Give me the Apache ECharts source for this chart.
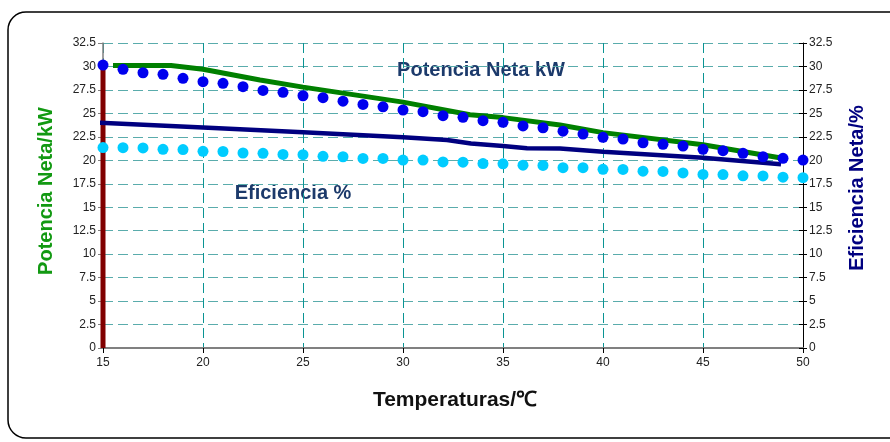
<!DOCTYPE html>
<html>
<head>
<meta charset="utf-8">
<script src="https://cdn.jsdelivr.net/npm/echarts@6/dist/echarts.min.js"></script>
<style>
html,body{margin:0;padding:0;background:#fff;}
#chart{width:890px;height:442px;}
</style>
</head>
<body>
<div id="chart"></div>
<script>
const temps = [15,16,17,18,19,20,21,22,23,24,25,26,27,28,29,30,31,32,33,34,35,36,37,38,39,40,41,42,43,44,45,46,47,48,49,50];
const potenciaDots = [30.15,29.7,29.33,29.16,28.74,28.38,28.2,27.84,27.45,27.24,26.88,26.67,26.3,25.96,25.7,25.36,25.18,24.75,24.58,24.22,24.05,23.66,23.47,23.1,22.8,22.45,22.27,21.87,21.7,21.52,21.17,21.02,20.74,20.38,20.21,20.03];
const eficienciaDots = [21.36,21.34,21.32,21.17,21.15,20.96,20.94,20.78,20.74,20.63,20.6,20.42,20.38,20.2,20.2,20.03,20.02,19.83,19.8,19.65,19.62,19.48,19.45,19.22,19.22,19.04,19.03,18.84,18.82,18.65,18.5,18.48,18.35,18.33,18.2,18.15];
const greenX = [15.5,18.4,20,22.85,25,30,33.35,35,37.85,40,45,48.9];
const greenY = [30.1,30.1,29.7,28.55,27.8,26.2,24.85,24.55,23.76,22.95,21.65,20.25];
const navyX = [14.8,20,25,30,32.2,33.4,35,36.2,37.85,40,45,48.9];
const navyY = [24.0,23.5,22.98,22.45,22.16,21.8,21.52,21.28,21.26,20.92,20.28,19.57];
const markerX = [15,15];
const markerY = [0,30.15];
const xTicks = {min:15,max:50,step:5};
const yTicks = {min:0,max:32.5,step:2.5};

const zip = (a,b)=>a.map((v,i)=>[v,b[i]]);
const font = 'Liberation Sans, Arial, sans-serif';
const chart = echarts.init(document.getElementById('chart'),null,{renderer:'canvas'});
const yLabelFmt = v => String(v);
const baseY = {
  type:'value', min:yTicks.min, max:yTicks.max, interval:yTicks.step
};
chart.setOption({
  animation:false,
  backgroundColor:'#fff',
  grid:{left:103,right:87,top:43,bottom:94,containLabel:false},
  xAxis:{
    type:'value', min:xTicks.min, max:xTicks.max, interval:xTicks.step,
    axisLine:{show:true,onZero:false,lineStyle:{color:'#808080',width:2}},
    axisTick:{show:true,length:5,lineStyle:{color:'#000',width:1}},
    axisLabel:{color:'#222',fontSize:12,fontFamily:font,margin:9},
    splitLine:{show:true,lineStyle:{color:'#0a9494',type:[10,5],width:1}}
  },
  yAxis:[
    Object.assign({},baseY,{
      position:'left',
      axisLine:{show:true,onZero:false,lineStyle:{color:'#808080',width:1.5}},
      axisTick:{show:true,length:5,lineStyle:{color:'#808080'}},
      axisLabel:{color:'#222',fontSize:12,fontFamily:font,margin:7,formatter:yLabelFmt},
      splitLine:{show:true,lineStyle:{color:'#5aacac',type:[10,5],width:1}}
    }),
    Object.assign({},baseY,{
      position:'right',
      axisLine:{show:true,onZero:false,lineStyle:{color:'#000',width:1}},
      axisTick:{show:true,length:4,lineStyle:{color:'#000'}},
      axisLabel:{color:'#222',fontSize:12,fontFamily:font,margin:6,formatter:yLabelFmt},
      splitLine:{show:false}
    }),
    Object.assign({},baseY,{
      position:'right',
      axisLine:{show:false},
      axisTick:{show:true,inside:true,length:4,lineStyle:{color:'#000'}},
      axisLabel:{show:false},
      splitLine:{show:false}
    })
  ],
  series:[
    {type:'line',name:'marker',data:zip(markerX,markerY),symbol:'none',
     lineStyle:{color:'#800000',width:5},z:3},
    {type:'line',name:'Eficiencia %',data:zip(temps,eficienciaDots),symbol:'circle',symbolSize:11,
     lineStyle:{width:0},itemStyle:{color:'#00ccff'},z:4},
    {type:'line',name:'Eficiencia Neta',data:zip(navyX,navyY),symbol:'none',clip:false,
     lineStyle:{color:'#000080',width:4.5},z:5},
    {type:'line',name:'Potencia Neta',data:zip(greenX,greenY),symbol:'none',
     lineStyle:{color:'#008000',width:5},z:6},
    {type:'line',name:'Potencia Neta kW',data:zip(temps,potenciaDots),symbol:'circle',symbolSize:11,
     lineStyle:{width:0},itemStyle:{color:'#0000ee'},z:7}
  ],
  graphic:[
    {type:'rect',shape:{x:8,y:12,width:900,height:426,r:18},
     style:{fill:'none',stroke:'#000',lineWidth:1.5},z:-10},
    {type:'text',x:46,y:191,rotation:Math.PI/2,
     style:{text:'Potencia Neta/kW',fill:'#129912',font:'bold 20px '+font,align:'center',verticalAlign:'middle'}},
    {type:'text',x:857,y:188,rotation:Math.PI/2,
     style:{text:'Eficiencia Neta/%',fill:'#000080',font:'bold 20px '+font,align:'center',verticalAlign:'middle'}},
    {type:'text',x:455,y:400,
     style:{text:'Temperaturas/℃',fill:'#111',font:'bold 21px '+font,align:'center',verticalAlign:'middle'}},
    {type:'text',x:481,y:70,
     style:{text:'Potencia Neta kW',fill:'#1c3a6b',font:'bold 20px '+font,align:'center',verticalAlign:'middle'}},
    {type:'text',x:293,y:193,
     style:{text:'Eficiencia %',fill:'#1c3a6b',font:'bold 20px '+font,align:'center',verticalAlign:'middle'}}
  ]
});
</script>
</body>
</html>
